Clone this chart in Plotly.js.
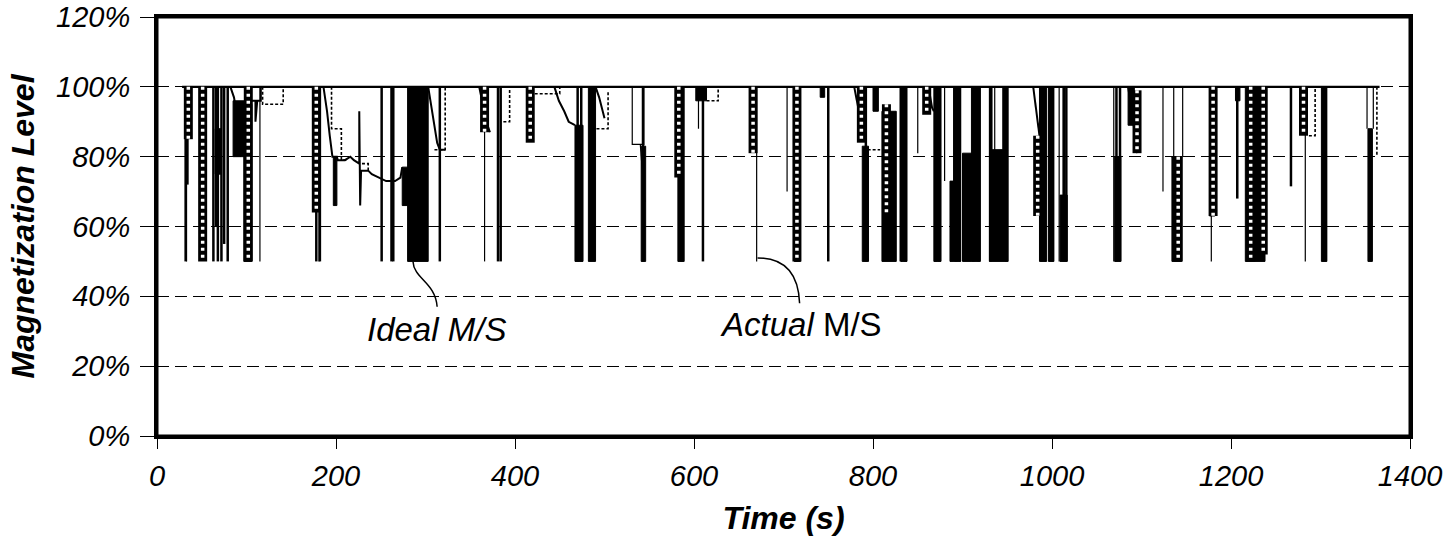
<!DOCTYPE html>
<html>
<head>
<meta charset="utf-8">
<script src="https://cdn.plot.ly/plotly-3.0.1.min.js"></script>
<style>html,body{margin:0;padding:0;background:#fff;}#chart{width:1447px;height:548px;}</style>
</head>
<body>
<div id="chart"></div>
<script>
// ---- axis ticks ----
const timeTicks = [0, 200, 400, 600, 800, 1000, 1200, 1400];
const levelTicks = [0, 20, 40, 60, 80, 100, 120];
const levelTickText = ['0%', '20%', '40%', '60%', '80%', '100%', '120%'];

// ---- Ideal M/S : running level and sharp drops ----
const idealRunTime = [28, 1366];
const idealRunLevel = [100, 100];
const idealDropTime = [32, 34, 63, 66, 68, 72, 75, 79, 104, 178, 182, 251, 262, 264, 316, 381, 384, 470, 474, 543, 586, 610, 715, 750, 792, 831, 836, 870, 874, 893, 897, 912, 918, 931, 949, 989, 992, 998, 1001, 1013, 1016, 1072, 1076, 1207, 1267, 1303, 1306];
const idealDropLevel = [50, 72, 50, 60, 50, 50, 55, 50, 50, 50, 50, 50, 50, 50, 50, 50, 50, 50, 50, 50, 50, 50, 50, 50, 50, 50, 50, 50, 50, 50, 50, 50, 50, 50, 50, 50, 50, 50, 50, 50, 50, 50, 50, 68, 71.5, 50, 50];

// Ideal M/S gradual profiles (null separates pieces)
const idealProfileTime = [82, 86, 88, 92, 100, 106, 110, 110, 112, 116, 116, null,
  186, 190, 193, 196, 201, 202, 210, 216, 220, 226, 226, 227, 228, 236, 240, 248, 256, 266, 272, 274, null,
  303, 306, 310, 313, 316, 322, null,
  360, 364, 368, 372, null,
  444, 449, 455, 460, 467, null,
  490, 494, 498, 500, null,
  779, 783, 788, null,
  862, 866, 868, null,
  979, 983, 986, null,
  1085, 1090, 1095];
const idealProfileLevel = [100, 97, 94, 95, 95, 96, 96, 90, 96, 96, 100, null,
  100, 93, 86, 80, 80, 79, 79, 80, 79, 78, 93, 66, 76, 76, 75, 74, 73, 73, 74, 77, null,
  100, 95, 88, 84, 82, 82, null,
  100, 95, 90, 87, null,
  100, 96, 93, 90, 89, null,
  100, 97, 93, 91, null,
  100, 95, 88, null,
  100, 94, 93, null,
  100, 92, 86, null,
  100, 92, 81];

// Dense (solid black) regions: start time, end time, upper level, lower level
const blockStart = [65, 85, 97, 197, 274, 280, 467, 482, 541, 582, 602, 712, 741, 788, 800, 810, 831, 868, 886, 890, 900, 910, 930, 930, 945, 986, 996, 1009, 1070, 1085, 1134, 1176, 1205, 1216, 1301, 1353];
const blockEnd   = [72, 99, 106, 201, 280, 303, 476, 490, 546, 589, 614, 719, 746, 795, 806, 826, 838, 876, 890, 898, 910, 920, 951, 933, 951, 994, 1002, 1017, 1077, 1092, 1145, 1182, 1210, 1238, 1307, 1358];
const blockTop   = [88, 96, 95, 80, 77, 100, 89, 100, 83, 100, 100, 100, 100, 83, 100, 93, 100, 100, 73, 100, 81, 100, 82, 100, 100, 100, 100, 69, 80, 100, 80, 100, 100, 100, 100, 88];
const blockBottom= [75, 80, 50, 66, 66, 50, 50, 50, 50, 50, 96, 50, 97, 50, 93, 50, 50, 50, 50, 50, 50, 50, 50, 82, 82, 50, 50, 50, 50, 89, 50, 63, 96, 50, 50, 50];

// ---- Actual M/S : thin drops and profiles ----
const actualDropTime  = [33, 115, 181, 366, 605, 670, 704, 850, 880, 936, 1008, 1014, 1069, 1124, 1136, 1146, 1178, 1283, 1352, 1359];
const actualDropLevel = [50, 50, 50, 50, 88, 50, 70, 81, 73, 53, 50, 69, 50, 70, 80, 80, 50, 50, 88, 88];
const actualProfileTime  = [531, 531, 544, 544, null, 540, 545, null, 1133, 1146];
const actualProfileLevel = [100, 83.5, 83.5, 100, null, 83.5, 67, null, 80, 80];

// ---- dotted (chain) series : time, top level, bottom level ----
const chainTime   = [35, 51, 102, 178, 366, 417, 583, 666, 715, 787, 815, 860, 984, 1095, 1141, 1180, 1222, 1236, 1281];
const chainTop    = [100, 100, 100, 100, 100, 100, 100, 100, 100, 100, 95, 100, 86, 99, 80, 100, 100, 100, 100];
const chainBottom = [85, 50, 50, 64, 87, 84, 74, 81, 50, 84, 64, 92, 63, 81, 50, 63, 50, 52, 86];

// ---- dashed step series ----
const stepTime  = [118, 118, 141, 141, null, 195, 195, 206, 206, 212, null, 229, 236, 236, null, 310, 322, 322, null, 387, 394, 394, null, 422, 450, 450, null, 491, 504, 504, null, 614, 627, 627, null, 794, 808, null, 1287, 1294, 1294, null, 1363, 1363];
const stepLevel = [100, 95, 95, 100, null, 100, 88, 88, 79, 79, null, 78, 78, 76, null, 82, 82, 100, null, 90, 90, 100, null, 98, 98, 100, null, 88, 88, 99, null, 96, 96, 100, null, 82, 82, null, 86, 86, 100, null, 100, 80];

// ---- labels ----
const idealLabel = 'Ideal M/S';
const actualLabel = '<i>Actual</i> M/S';
const idealLeader = {from: [286, 50], to: [313, 37]};
const actualLeader = {from: [671, 51], to: [718, 38]};

// ---------- build traces ----------
function drops(times, levels, base) {
  const x = [], y = [];
  times.forEach((t, i) => { x.push(t, t, null); y.push(base, levels[i], null); });
  return {x, y};
}
function verticals(times, tops, bottoms) {
  const x = [], y = [];
  times.forEach((t, i) => { x.push(t, t, null); y.push(tops[i], bottoms[i], null); });
  return {x, y};
}
function rects(s, e, top, bot) {
  const x = [], y = [];
  s.forEach((v, i) => { x.push(v, e[i], e[i], v, v, null); y.push(top[i], top[i], bot[i], bot[i], top[i], null); });
  return {x, y};
}

const FONT = "'Liberation Sans Narrow', 'Liberation Sans', Arial, sans-serif";

const idealDrops = drops(idealDropTime, idealDropLevel, 100);
const actualDrops = drops(actualDropTime, actualDropLevel, 100);
const blocks = rects(blockStart, blockEnd, blockTop, blockBottom);
const chain = verticals(chainTime, chainTop, chainBottom);

const traces = [
  {x: blocks.x, y: blocks.y, mode: 'lines', fill: 'toself', fillcolor: '#000', line: {color: '#000', width: 1}, hoverinfo: 'skip', name: 'dense'},
  {x: idealRunTime, y: idealRunLevel, mode: 'lines', line: {color: '#000', width: 2.2}, name: 'Ideal M/S'},
  {x: idealDrops.x, y: idealDrops.y, mode: 'lines', line: {color: '#000', width: 2.5}, name: 'Ideal drops'},
  {x: idealProfileTime, y: idealProfileLevel, mode: 'lines', line: {color: '#000', width: 2}, name: 'Ideal profile'},
  {x: actualDrops.x, y: actualDrops.y, mode: 'lines', line: {color: '#000', width: 1.2}, name: 'Actual M/S'},
  {x: actualProfileTime, y: actualProfileLevel, mode: 'lines', line: {color: '#000', width: 1.2}, name: 'Actual profile'},
  {x: chain.x, y: chain.y, mode: 'lines', line: {color: '#000', width: 9}, name: 'chain'},
  {x: chain.x, y: chain.y, mode: 'lines', line: {color: '#fff', width: 3.5, dash: '3px,4px'}, name: 'chain dots'},
  {x: stepTime, y: stepLevel, mode: 'lines', line: {color: '#000', width: 1.6, dash: '3px,2px'}, name: 'steps'}
];

function leaderPath(l, kind) {
  const [x0, y0] = l.from, [x1, y1] = l.to;
  if (kind === 's') return `M ${x0},${y0} C ${x0 + 1},${y0 - 5} ${x1 - 2},${y0 - 6} ${x1},${y1}`;
  return `M ${x0},${y0} Q ${x1 - 2},${y0} ${x1},${y1}`;
}

const layout = {
  width: 1447, height: 548,
  margin: {l: 157, r: 37, t: 17, b: 112},
  paper_bgcolor: '#fff', plot_bgcolor: '#fff',
  showlegend: false,
  font: {family: FONT, color: '#000'},
  xaxis: {
    range: [0, 1400], tickvals: timeTicks, ticktext: timeTicks.map(String),
    showline: true, linecolor: '#000', linewidth: 3, mirror: true,
    ticks: 'outside', ticklen: 10, tickwidth: 1, tickcolor: '#000',
    showgrid: false, zeroline: false,
    tickfont: {family: FONT, size: 29, style: 'italic'},
    ticklabelstandoff: 2,
    title: {text: 'Time (s)', font: {family: FONT, size: 32, weight: 'bold', style: 'italic'}, standoff: 16}
  },
  yaxis: {
    range: [-0.001, 120.001], tickvals: levelTicks, ticktext: levelTickText,
    showline: true, linecolor: '#000', linewidth: 3, mirror: true,
    ticks: 'outside', ticklen: 14, tickwidth: 1, tickcolor: '#000',
    showgrid: true, gridcolor: '#000', gridwidth: 1.3, griddash: '12px,6px',
    zeroline: false,
    tickfont: {family: FONT, size: 29, style: 'italic'},
    ticklabelstandoff: 4,
    title: {text: 'Magnetization Level', font: {family: FONT, size: 32, weight: 'bold', style: 'italic'}, standoff: 12}
  },
  shapes: [
    {type: 'rect', xref: 'paper', yref: 'paper', x0: 0, x1: 1, y0: 0, y1: 1, line: {color: '#000', width: 3}},
    {type: 'path', xref: 'x', yref: 'y', path: leaderPath(idealLeader, 's'), line: {color: '#000', width: 1.5}},
    {type: 'path', xref: 'x', yref: 'y', path: leaderPath(actualLeader, 'q'), line: {color: '#000', width: 1.5}}
  ],
  annotations: [
    {x: 312, y: 30.5, xref: 'x', yref: 'y', text: idealLabel, showarrow: false, xanchor: 'center', yanchor: 'middle',
     font: {family: FONT, size: 33, style: 'italic', color: '#000'}},
    {x: 720, y: 32, xref: 'x', yref: 'y', text: actualLabel, showarrow: false, xanchor: 'center', yanchor: 'middle',
     font: {family: FONT, size: 33, color: '#000'}}
  ]
};

Plotly.newPlot('chart', traces, layout, {displayModeBar: false, staticPlot: true});
</script>
</body>
</html>
